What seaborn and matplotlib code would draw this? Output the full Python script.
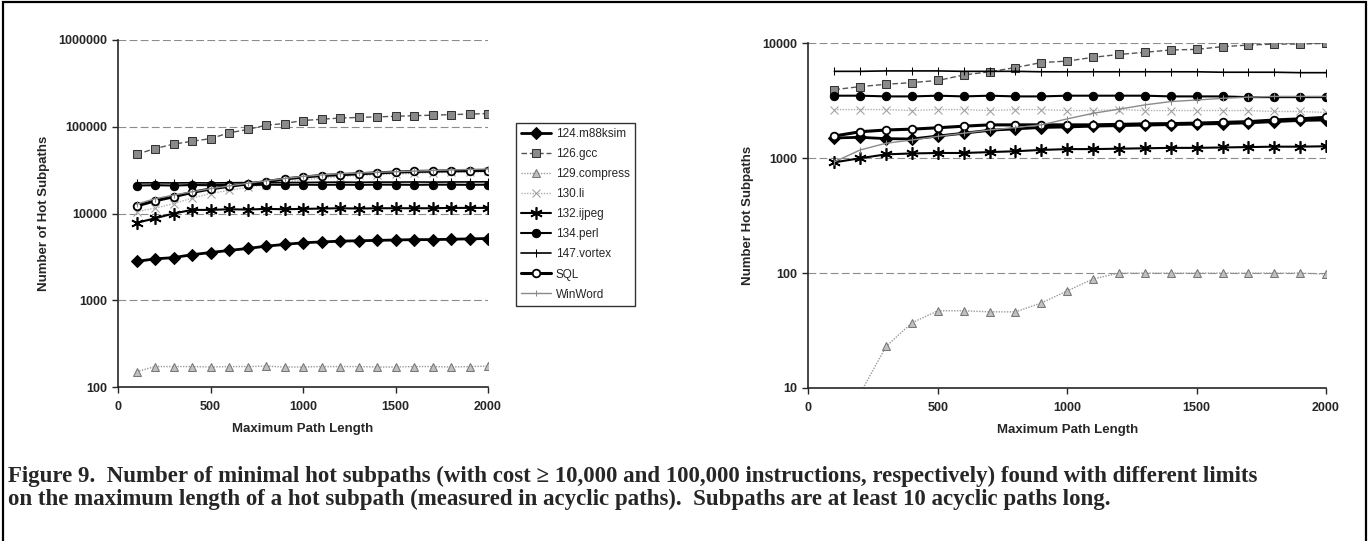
import numpy as np
import pandas as pd
import matplotlib
matplotlib.use("Agg")
import matplotlib.pyplot as plt
import seaborn as sns
from matplotlib.patches import Rectangle
from matplotlib.ticker import FixedLocator, NullLocator

# maximum path length (acyclic paths)
path_len = [100, 200, 300, 400, 500, 600, 700, 800, 900, 1000,
            1100, 1200, 1300, 1400, 1500, 1600, 1700, 1800, 1900, 2000]

benchmarks = ["124.m88ksim", "126.gcc", "129.compress", "130.li", "132.ijpeg",
              "134.perl", "147.vortex", "SQL", "WinWord"]

# left panel: cost >= 10,000 instructions
left_m88ksim = [2800, 3000, 3100, 3350, 3550, 3750, 3950, 4200, 4400, 4600,
                4700, 4800, 4850, 4900, 4950, 5000, 5000, 5050, 5100, 5150]
left_gcc = [48000, 56000, 63000, 68000, 73000, 85000, 93000, 104000, 109000, 118000,
            122000, 126000, 128000, 130000, 132000, 134000, 136000, 138000, 140000, 142000]
left_compress = [150, 172, 172, 172, 170, 172, 172, 174, 170, 170,
                 172, 172, 172, 170, 170, 172, 172, 170, 172, 174]
left_li = [10500, 11500, 13000, 15000, 17000, 18500, 20000, 21500, 23000, 24500,
           25500, 26500, 27500, 28000, 28500, 29000, 29500, 30000, 30000, 30500]
left_ijpeg = [7800, 8800, 10000, 11000, 11000, 11200, 11100, 11300, 11200, 11300,
              11400, 11500, 11400, 11500, 11500, 11500, 11500, 11600, 11600, 11600]
left_perl = [21000, 21200, 21000, 21300, 21200, 21400, 21300, 21500, 21400, 21500,
             21400, 21500, 21400, 21500, 21500, 21400, 21500, 21500, 21400, 21500]
left_vortex = [22500, 22600, 22500, 22600, 22500, 22600, 22700, 22800, 22700, 22800,
               22900, 23000, 22900, 23000, 23000, 23100, 23000, 23100, 23100, 23200]
left_sql = [12200, 14000, 15600, 17500, 19200, 20600, 21900, 23300, 25000, 26300,
            27400, 28000, 28700, 29400, 30000, 30500, 30800, 31000, 31200, 31300]
left_winword = [12800, 14800, 16300, 17800, 19300, 20800, 22300, 23800, 25300, 26800,
                27800, 28800, 29300, 29800, 30300, 30800, 31300, 31800, 32200, 32600]

# right panel: cost >= 100,000 instructions
right_m88ksim = [1500, 1520, 1480, 1470, 1560, 1650, 1750, 1800, 1850, 1870,
                 1900, 1920, 1940, 1960, 1980, 2000, 2030, 2080, 2130, 2150]
right_gcc = [3950, 4200, 4400, 4550, 4750, 5300, 5650, 6150, 6800, 7000,
             7550, 8000, 8350, 8750, 8850, 9350, 9650, 9850, 9850, 10000]
right_compress = [np.nan, 9, 23, 37, 47, 47, 46, 46, 55, 70,
                  89, 100, 100, 100, 100, 100, 100, 100, 100, 98]
right_li = [2650, 2650, 2650, 2600, 2650, 2650, 2600, 2650, 2650, 2600,
            2600, 2650, 2600, 2600, 2600, 2600, 2600, 2550, 2550, 2500]
right_ijpeg = [920, 1000, 1080, 1100, 1110, 1110, 1130, 1150, 1180, 1200,
               1200, 1210, 1220, 1230, 1230, 1240, 1250, 1260, 1260, 1270]
right_perl = [3500, 3500, 3450, 3450, 3500, 3450, 3500, 3450, 3450, 3500,
              3500, 3500, 3500, 3450, 3450, 3450, 3400, 3400, 3400, 3400]
right_vortex = [5700, 5700, 5750, 5750, 5750, 5700, 5700, 5700, 5650, 5650,
                5650, 5650, 5650, 5650, 5650, 5600, 5600, 5600, 5550, 5550]
right_sql = [1560, 1700, 1760, 1790, 1840, 1900, 1950, 1950, 1950, 1950,
             1950, 1970, 1990, 2000, 2020, 2050, 2080, 2150, 2200, 2270]
right_winword = [930, 1180, 1350, 1440, 1550, 1650, 1760, 1850, 1950, 2200,
                 2460, 2670, 2910, 3110, 3210, 3320, 3400, 3450, 3450, 3450]

left_series = [left_m88ksim, left_gcc, left_compress, left_li, left_ijpeg,
               left_perl, left_vortex, left_sql, left_winword]
right_series = [right_m88ksim, right_gcc, right_compress, right_li, right_ijpeg,
                right_perl, right_vortex, right_sql, right_winword]

caption = ["Figure 9.  Number of minimal hot subpaths (with cost \u2265 10,000 and 100,000 "
           "instructions, respectively) found with different limits",
           "on the maximum length of a hot subpath (measured in acyclic paths).  "
           "Subpaths are at least 10 acyclic paths long."]

# line look per benchmark (Excel-ish black & white print)
styles = {
    "124.m88ksim": dict(color="black", lw=2.0, linestyle="-", marker="D", ms=6,
                        mfc="black", mec="black"),
    "126.gcc": dict(color="#555555", lw=1.0, linestyle=(0, (4, 2)), marker="s", ms=6,
                    mfc="#8a8a8a", mec="#333333"),
    "129.compress": dict(color="#9a9a9a", lw=1.0, linestyle=(0, (1, 1)), marker="^", ms=6,
                         mfc="#c0c0c0", mec="#777777"),
    "130.li": dict(color="#b0b0b0", lw=1.0, linestyle=(0, (1, 1)), marker="x", ms=6,
                   mfc="#b0b0b0", mec="#a0a0a0"),
    "132.ijpeg": dict(color="black", lw=1.5, linestyle="-", marker=(6, 2, 0), ms=9,
                      mfc="black", mec="black", mew=1.2),
    "134.perl": dict(color="black", lw=1.5, linestyle="-", marker="o", ms=6,
                     mfc="black", mec="black"),
    "147.vortex": dict(color="black", lw=1.2, linestyle="-", marker="|", ms=6,
                       mfc="black", mec="black"),
    "SQL": dict(color="black", lw=2.2, linestyle="-", marker="o", ms=5.5,
                mfc="white", mec="black", mew=1.3),
    "WinWord": dict(color="#8a8a8a", lw=1.0, linestyle="-", marker="|", ms=5,
                    mfc="#8a8a8a", mec="#8a8a8a"),
}

sns.set_style("ticks")
plt.rcParams["font.family"] = ["Liberation Sans", "DejaVu Sans"]

W, H = 1369, 541
fig = plt.figure(figsize=(W / 100, H / 100), dpi=100)


def px_axes(x0, x1, ytop, ybot):
    return fig.add_axes([x0 / W, 1 - ybot / H, (x1 - x0) / W, (ybot - ytop) / H])


def draw_panel(ax, series, ylim, yticks, ylabel):
    df = pd.DataFrame({"x": path_len})
    for name, vals in zip(benchmarks, series):
        df[name] = vals
    for name in benchmarks:
        sub = df[["x", name]].dropna()
        sns.lineplot(data=sub, x="x", y=name, ax=ax, label=name, legend=False,
                     **styles[name])
    ax.set_yscale("log")
    ax.set_xlim(0, 2000)
    ax.set_ylim(*ylim)
    ax.xaxis.set_major_locator(FixedLocator([0, 500, 1000, 1500, 2000]))
    ax.yaxis.set_major_locator(FixedLocator(yticks))
    ax.yaxis.set_minor_locator(NullLocator())
    ax.set_yticklabels([str(int(t)) for t in yticks])
    for t in yticks[1:]:
        ax.axhline(t, color="#8c8c8c", lw=0.8, linestyle=(0, (7, 3)), zorder=0.5)
    ax.tick_params(axis="both", direction="out", length=4, width=1, labelsize=9, pad=4)
    ax.tick_params(axis="x", pad=6)
    for lab in ax.get_xticklabels() + ax.get_yticklabels():
        lab.set_fontweight("bold")
    ax.set_xlabel("Maximum Path Length", fontsize=9.5, fontweight="bold", labelpad=7)
    ax.set_ylabel(ylabel, fontsize=9.5, fontweight="bold", labelpad=6)
    sns.despine(ax=ax)
    ax.spines["left"].set_linewidth(1.2)
    ax.spines["bottom"].set_linewidth(1.2)


ax_l = px_axes(118, 488, 40, 387)
draw_panel(ax_l, left_series, (100, 1000000),
           [100, 1000, 10000, 100000, 1000000], "Number of Hot Subpaths")

ax_r = px_axes(808.5, 1326, 43.3, 388)
draw_panel(ax_r, right_series, (10, 10000),
           [10, 100, 1000, 10000], "Number Hot Subpaths")

handles, labels = ax_l.get_legend_handles_labels()
leg = fig.legend(handles, labels, loc="upper left",
                 bbox_to_anchor=(516 / W, 1 - 123 / H), fontsize=8.5,
                 frameon=True, fancybox=False, edgecolor="black",
                 handlelength=2.5, handletextpad=0.4, labelspacing=0.68,
                 borderpad=0.45, borderaxespad=0)
leg.get_frame().set_linewidth(1.0)

# outer frame of the figure
fig.add_artist(Rectangle((3 / W, -0.05), (1366 - 3) / W, 1.05 - 2.5 / H,
                         transform=fig.transFigure, fill=False,
                         lw=1.6, edgecolor="black", clip_on=False))

# caption: the scanned Times is wide, so fit the first line to the frame width
cap_font = ["Liberation Serif", "DejaVu Serif"]
t1 = fig.text(8 / W, 1 - 482 / H, caption[0], fontsize=13, fontweight="bold",
              family=cap_font, va="baseline", ha="left")
fig.canvas.draw()
w = t1.get_window_extent(renderer=fig.canvas.get_renderer()).width
size = min(13 * (1350 / w), 16.5)
t1.set_fontsize(size)
fig.text(8 / W, 1 - 505 / H, caption[1], fontsize=size, fontweight="bold",
         family=cap_font, va="baseline", ha="left")

fig.savefig("out.png", dpi=100)
